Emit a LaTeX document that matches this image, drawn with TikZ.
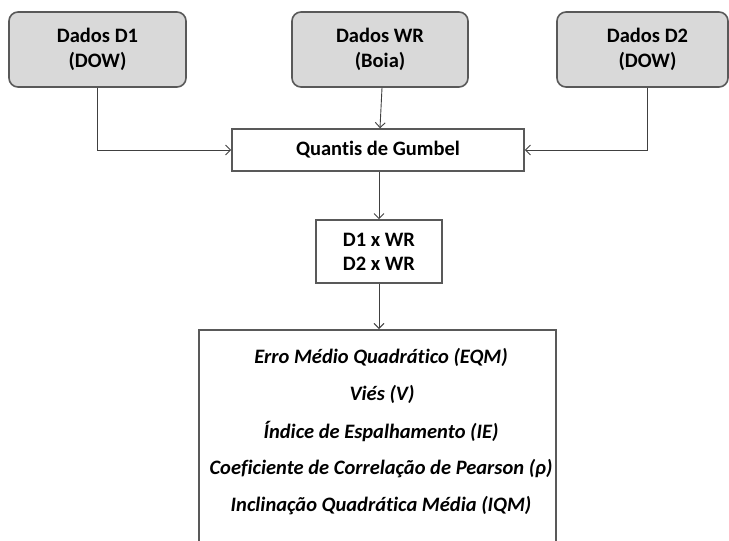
\documentclass[tikz,border=0pt]{standalone}
\usepackage{fontspec}
\setmainfont{Carlito}[Ligatures=CommonOff]
\usetikzlibrary{arrows.meta}
\definecolor{boxline}{HTML}{595959}
\definecolor{boxfill}{HTML}{D9D9D9}
\definecolor{arrline}{HTML}{404040}
\begin{document}
\begin{tikzpicture}[x=1pt,y=-1pt,
  srcbox/.style={draw=boxline, fill=boxfill, line width=1.6pt, rounded corners=9pt,
    minimum height=75pt, align=center, font=\fontsize{20.5}{25}\selectfont\bfseries, inner sep=0pt},
  plainbox/.style={draw=boxline, fill=white, line width=1.6pt, align=center,
    font=\fontsize{20.5}{24}\selectfont\bfseries, inner sep=0pt},
  metric/.style={font=\fontsize{20.5}{24}\selectfont\bfseries\itshape, inner sep=0pt},
  conn/.style={draw=arrline, line width=0.9pt, -{Straight Barb[length=5pt,width=10pt]}}]
\useasboundingbox (0,0) rectangle (729,541);
\clip (0,0) rectangle (729,541);
\node[srcbox, minimum width=177pt] (d1) at (97.5,49.5) {Dados D1\\(DOW)};
\node[srcbox, minimum width=176pt] (wr) at (380,49.5) {Dados WR\\(Boia)};
\node[srcbox, minimum width=171pt] (d2) at (642.5,49.5) {\hspace*{10pt}Dados D2\\\hspace*{10pt}(DOW)};
\node[plainbox, minimum width=292pt, minimum height=42pt] (q) at (378,150) {Quantis de Gumbel};
\node[plainbox, minimum width=126pt, minimum height=63pt] (c) at (379,251.5) {D1 x WR\\D2 x WR};
\node[plainbox, minimum width=357pt, minimum height=240pt, anchor=north] (m) at (377.5,329) {};
\node[metric] (m1) at (381,357) {Erro Médio Quadrático (EQM)};
\node[metric] (m2) at (382,394.5) {Viés (V)};
\node[metric] (m3) at (381,431) {Índice de Espalhamento (IE)};
\node[metric] (m4) at (381,469) {Coeficiente de Correlação de Pearson (ρ)};
\node[metric] (m5) at (381,506) {Inclinação Quadrática Média (IQM)};
\draw[conn] (d1.south) |- (q.west);
\draw[conn] ([xshift=2pt]wr.south) -- ([xshift=2pt]q.north);
\draw[conn] ([xshift=4.5pt]d2.south) |- (q.east);
\draw[conn] ([xshift=1pt]q.south) -- (c.north);
\draw[conn] (c.south) -- (c.south |- m.north);
\end{tikzpicture}
\end{document}
